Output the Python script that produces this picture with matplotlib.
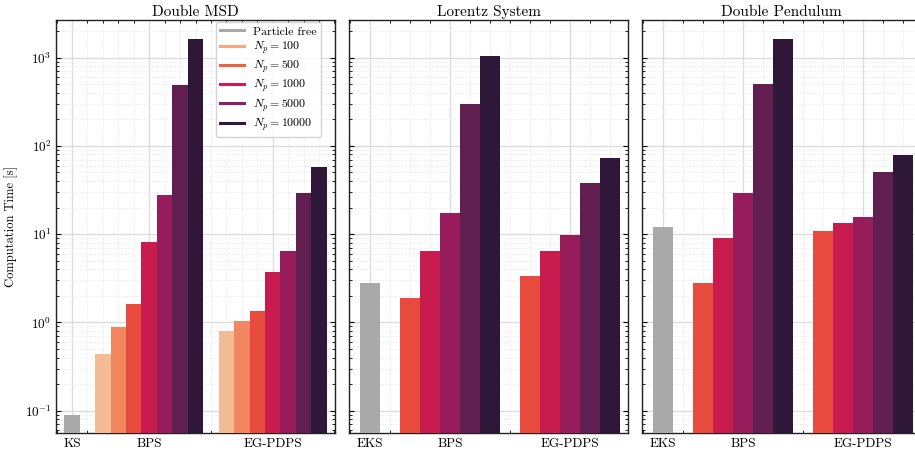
import matplotlib
matplotlib.use("Agg")
import matplotlib.pyplot as plt
from matplotlib.lines import Line2D
from matplotlib.ticker import LogLocator, FixedLocator, NullFormatter
import numpy as np

plt.rcParams['font.family'] = ['cmr10', 'DejaVu Serif']
plt.rcParams['mathtext.fontset'] = 'cm'
plt.rcParams['axes.formatter.use_mathtext'] = True
plt.rcParams['axes.unicode_minus'] = False

# ---- data ----
titles = ["Double MSD", "Lorentz System", "Double Pendulum"]
cats_msd = ["KS", "BPS", "EG-PDPS"]
cats_other = ["EKS", "BPS", "EG-PDPS"]

msd_pf = 0.090
msd_bps = [0.44, 0.89, 1.63, 8.2, 28.0, 493, 1640]
msd_eg = [0.80, 1.04, 1.36, 3.75, 6.5, 29.5, 58]

lor_pf = 2.8
lor_bps = [1.9, 6.5, 17.5, 300, 1050]
lor_eg = [3.4, 6.5, 9.8, 38, 73]

pen_pf = 12.1
pen_bps = [2.8, 9.1, 29.5, 506, 1640]
pen_eg = [10.9, 13.5, 15.7, 51, 79]

legend_labels = ["Particle free", r"$N_p = 100$", r"$N_p = 500$", r"$N_p = 1000$",
                 r"$N_p = 5000$", r"$N_p = 10000$"]

# ---- styles ----
gray = "#a9a9a9"
bar_colors = ['#f4bc94', '#f2865e', '#e94a3e', '#c91c4e', '#961c5c', '#611e51', '#2e1739']
legend_colors = [gray, '#f9a67e', '#ee6142', '#cf1a57', '#8a2062', '#301a3e']

fig = plt.figure(figsize=(9.15, 4.53), dpi=100)
W, H = 915.0, 453.0
bottom = (H - 433.3) / H
height = (433.3 - 20) / H
lefts = [55.7, 349.3, 642.0]
widths = [279.3, 278.7, 279.0]

panels = [
    (cats_msd, msd_pf, msd_bps, msd_eg, bar_colors, (-1.06, 17.04)),
    (cats_other, lor_pf, lor_bps, lor_eg, bar_colors[2:], (-1.04, 12.9)),
    (cats_other, pen_pf, pen_bps, pen_eg, bar_colors[2:], (-1.05, 12.9)),
]

axes = []
for i, (cats, pf, bps, eg, cols, xl) in enumerate(panels):
    ax = fig.add_axes([lefts[i] / W, bottom, widths[i] / W, height],
                      sharey=axes[0] if axes else None)
    axes.append(ax)
    n = len(bps)
    x_pf = 0
    x_bps = np.arange(2, 2 + n)
    x_eg = np.arange(n + 3, 2 * n + 3)
    ax.bar([x_pf], [pf], width=1.0, color=gray, zorder=3)
    ax.bar(x_bps, bps, width=1.0, color=cols, zorder=3)
    ax.bar(x_eg, eg, width=1.0, color=cols, zorder=3)
    ax.set_yscale('log')
    ax.set_ylim(0.0555, 2670)
    ax.set_xlim(*xl)
    centers = [x_pf, x_bps.mean(), x_eg.mean()]
    ax.set_xticks(centers)
    ax.set_xticklabels(cats, fontsize=9.5)
    minors = [v for v in np.arange(-1, int(xl[1]) + 1) if v not in centers]
    ax.xaxis.set_minor_locator(FixedLocator(minors))
    ax.yaxis.set_major_locator(LogLocator(base=10, numticks=20))
    ax.yaxis.set_minor_locator(LogLocator(base=10, subs=np.arange(2, 10), numticks=20))
    ax.yaxis.set_minor_formatter(NullFormatter())
    ax.grid(True, which='major', color='#dcdcdc', linewidth=1.0, zorder=0)
    ax.grid(True, which='minor', color='#e6e6e6', linewidth=0.7, linestyle=':', zorder=0)
    ax.set_axisbelow(True)
    ax.tick_params(which='both', direction='in', top=True, right=True)
    ax.tick_params(which='major', length=3.5, width=0.8, labelsize=9.5, pad=3)
    ax.tick_params(which='minor', length=2, width=0.6)
    ax.tick_params(axis='x', which='major', length=0)
    for s in ax.spines.values():
        s.set_linewidth(1.0)
        s.set_color('#222222')
    ax.set_title(titles[i], fontsize=11, pad=3)
    if i > 0:
        plt.setp(ax.get_yticklabels(), visible=False)

axes[0].set_ylabel("Computation Time [s]", fontsize=9, labelpad=5)

handles = [Line2D([0], [0], color=c, lw=2.2) for c in legend_colors]
axes[0].legend(handles, legend_labels, loc='upper right', bbox_to_anchor=(0.95, 0.995),
               fontsize=8.6, frameon=True, fancybox=True, framealpha=0.85,
               edgecolor='#cccccc', handlelength=2.0, borderaxespad=0.0,
               labelspacing=0.22, borderpad=0.35)

fig.savefig("out.png", dpi=100)
